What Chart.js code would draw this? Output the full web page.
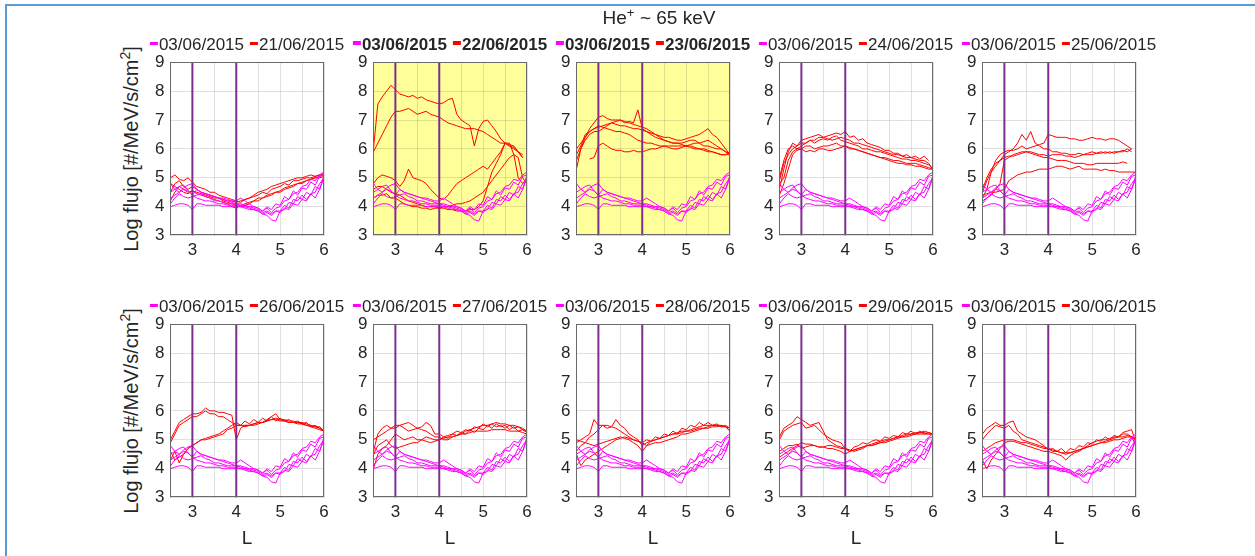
<!DOCTYPE html>
<html>
<head>
<meta charset="utf-8">
<title>He+ ~ 65 keV</title>
<script src="https://cdn.jsdelivr.net/npm/chart.js@4.4.0/dist/chart.umd.min.js"></script>
<style>
  body { margin: 0; width: 1255px; height: 556px; position: relative; overflow: hidden; background: #fff;
         font-family: 'Liberation Sans', Arial, Helvetica, sans-serif; color: #262626; }
  #frame { position: absolute; left: 5px; top: 4px; width: 1300px; height: 600px;
           border-left: 2px solid #5b9bd5; border-top: 2px solid #5b9bd5; }
  canvas { position: absolute; }
  .legend { position: absolute; transform: translate(-50%, -50%); font-size: 17px; line-height: 20px;
            white-space: nowrap; display: flex; gap: 6px; }
  .legend.bold { font-weight: bold; }
  .item { display: flex; align-items: center; }
  .dash { display: inline-block; width: 8px; height: 3px; margin-right: 1px; position: relative; top: -2px; }
  .legend.bold .dash { height: 4px; }
  .ylabel { position: absolute; font-size: 20px; white-space: nowrap; transform: translate(-50%, -50%) rotate(-90deg); }
  .xlabel { position: absolute; font-size: 19px; transform: translate(-50%, -50%); }
  .title { position: absolute; font-size: 19px; white-space: nowrap; transform: translate(-50%, -50%); }
  sup { font-size: 70%; line-height: 0; }
</style>
</head>
<body>
<div id="frame"></div>
<script>
// ---- data ----
const L_GRID = [2.5, 2.6, 2.7, 2.8, 2.9, 3.0, 3.1, 3.2, 3.3, 3.4, 3.5, 3.6, 3.7, 3.8, 3.9, 4.0, 4.1, 4.2,
                4.3, 4.4, 4.5, 4.6, 4.7, 4.8, 4.9, 5.0, 5.1, 5.2, 5.3, 5.4, 5.5, 5.6, 5.7, 5.8, 5.9, 6.0];
const L_RANGE = [2.5, 6];
const FLUX_RANGE = [3, 9];
const boundaryL = [3, 4];

const REF_DATE = '03/06/2015';
const panelDates = ['21/06/2015', '22/06/2015', '23/06/2015', '24/06/2015', '25/06/2015',
                    '26/06/2015', '27/06/2015', '28/06/2015', '29/06/2015', '30/06/2015'];
const highlighted = [false, true, true, false, false, false, false, false, false, false];

// quiet-day reference passes (03/06/2015), same in every panel
const flux0306 = [
  [4.0,4.05,4.1,4.1,4.05,3.9,4.1,4.1,4.05,4.05, 4.05,4.05,4.0,4.0,4.0,4.0,4.0,3.95,3.9,3.9, 3.85,3.75,3.8,3.7,3.85,3.8,3.95,3.9,4.1,4.05, 4.25,4.2,4.45,4.5,4.8,5.0],
  [4.3,4.4,4.5,4.6,4.55,4.4,4.3,4.25,4.2,4.2, 4.15,4.1,4.1,4.05,4.05,4.05,4.0,4.0,3.95,3.9, 3.85,3.75,3.7,3.55,3.5,3.85,3.9,4.15,4.1,4.35, 4.25,4.5,4.4,4.7,4.6,5.0],
  [4.8,4.6,4.5,4.65,4.75,4.8,4.6,4.5,4.45,4.4, 4.35,4.3,4.25,4.2,4.15,4.1,4.1,4.05,4.0,4.0, 3.95,3.85,3.95,3.8,3.95,4.0,4.2,4.25,4.45,4.5, 4.7,4.75,4.95,4.9,5.1,5.2],
  [4.5,4.6,4.7,4.75,4.55,4.4,4.6,4.5,4.45,4.4, 4.35,4.3,4.3,4.25,4.2,4.2,4.3,4.2,4.1,4.0, 3.95,3.85,4.0,3.9,4.1,4.05,4.35,4.25,4.55,4.4, 4.65,4.6,4.85,4.75,5.05,5.1],
  [4.1,4.3,4.45,4.35,4.3,4.35,4.4,4.45,4.35,4.3, 4.2,4.2,4.15,4.1,4.1,4.1,4.05,4.0,4.0,3.95, 3.9,3.8,3.85,3.75,3.85,3.85,4.05,3.95,4.25,4.2, 4.4,4.25,4.45,4.3,4.6,5.1]
];

const flux2106 = [
  [5.0,5.1,4.95,4.9,5.0,4.85,4.7,4.65,4.6,4.5, 4.5,4.4,4.35,4.3,4.25,4.2,4.15,4.25,4.3,4.35, 4.4,4.5,4.45,4.6,4.65,4.7,4.8,4.75,4.9,4.9, 4.95,5.0,5.0,5.05,5.1,5.1],
  [4.2,4.5,4.7,4.6,4.5,4.55,4.45,4.4,4.35,4.3, 4.25,4.2,4.15,4.1,4.0,3.95,4.05,4.1,4.15,4.2, 4.3,4.3,4.4,4.45,4.5,4.55,4.65,4.7,4.75,4.8, 4.85,4.9,4.95,5.0,5.05,5.1],
  [4.8,4.7,4.6,4.5,4.45,4.55,4.5,4.45,4.4,4.35, 4.3,4.3,4.25,4.2,4.2,4.15,4.2,4.25,4.3,4.4, 4.5,4.55,4.6,4.7,4.75,4.8,4.85,4.9,4.95,5.0, 5.0,5.05,5.1,5.05,5.1,5.15],
  [4.5,4.8,4.9,4.7,4.6,4.7,4.6,4.5,4.45,4.4, 4.35,4.3,4.2,4.15,4.1,4.05,4.0,4.05,4.1,4.2, 4.2,4.3,4.35,4.4,4.5,4.5,4.6,4.65,4.7,4.8, 4.8,4.9,4.95,5.0,5.0,5.05]
];
const flux2206 = [
  [6.0,7.55,7.8,8.0,8.2,8.05,7.9,7.85,7.8,7.85, 7.75,7.8,7.7,7.65,7.6,7.55,7.6,7.7,7.75,7.2, 7.0,6.9,6.8,6.1,6.7,6.95,7.0,6.8,6.6,6.35, 6.2,6.1,6.05,5.9,5.7,null],
  [5.9,6.2,6.5,6.8,7.1,7.3,7.3,7.35,7.4,7.3, 7.2,7.25,7.3,7.2,7.15,7.1,7.0,6.9,6.85,6.8, 6.75,6.7,6.7,6.7,6.65,6.6,6.5,6.4,6.3,6.2, 6.2,6.15,6.1,5.9,5.8,null],
  [4.8,5.0,5.1,5.05,5.0,4.9,4.7,4.9,5.3,5.0, 4.95,4.9,4.8,4.6,4.45,4.3,4.25,4.4,4.6,4.8, 4.9,5.0,5.1,5.2,5.3,5.4,5.3,5.5,5.7,5.9, 6.2,6.1,6.0,5.9,5.7,null],
  [4.6,4.7,4.7,4.6,4.5,4.45,4.4,4.3,4.2,4.15, 4.1,4.05,4.0,4.0,4.0,3.95,3.95,3.9,3.9,3.85, 3.85,3.85,3.9,3.9,4.0,4.2,4.7,5.2,5.5,5.8, 6.2,6.2,5.8,5.0,4.8,4.9],
  [4.3,4.4,4.4,4.45,4.3,4.3,4.2,4.1,4.05,4.0, 4.0,3.95,3.95,3.9,3.95,3.95,4.0,4.0,4.05,4.1, 4.1,4.15,4.2,4.3,4.4,4.5,4.7,4.9,5.1,5.3, 5.5,5.7,5.8,5.7,5.0,4.8]
];
const flux2306 = [
  [5.3,6.0,6.4,6.7,6.9,7.1,7.15,7.05,7.0,7.0, 7.0,6.95,6.9,6.85,6.8,6.75,6.7,6.6,6.5,6.4, 6.3,6.25,6.2,6.2,6.15,6.1,6.1,6.05,6.0,6.0, 5.95,5.9,5.85,5.8,5.8,5.9],
  [5.8,6.1,6.5,6.6,6.7,6.75,6.8,6.85,6.9,6.95, 7.0,6.9,6.95,6.9,7.35,6.7,6.6,6.5,6.4,6.35, 6.3,6.25,6.2,6.2,6.2,6.25,6.3,6.3,6.2,6.1, 6.1,6.05,6.0,6.0,5.9,5.85],
  [6.0,6.2,6.4,6.6,6.7,6.8,6.75,6.7,6.65,6.6, 6.6,6.55,6.5,6.4,6.3,6.25,6.2,6.2,6.15,6.1, 6.1,6.05,6.0,6.0,6.05,6.1,6.05,6.0,6.0,5.95, 5.9,5.9,5.85,5.8,5.8,5.8],
  [null,null,null,5.65,5.7,6.1,6.2,6.1,6.0,5.95, 5.95,5.9,5.9,5.95,5.9,5.9,5.95,6.0,6.0,6.05, 6.1,6.1,6.1,6.1,6.1,6.1,6.15,6.2,6.2,6.25, 6.3,6.2,6.1,6.0,5.9,5.8],
  [5.6,6.0,6.3,6.5,6.6,6.6,6.7,6.8,6.9,6.85, 6.8,6.8,6.75,6.7,6.7,6.65,6.6,6.55,6.5,6.45, 6.4,6.4,6.35,6.3,6.3,6.35,6.4,6.45,6.5,6.6, 6.7,6.5,6.4,6.2,6.0,5.8]
];
const flux2406 = [
  [4.6,5.3,5.9,6.2,6.1,6.3,6.35,6.4,6.45,6.5, 6.4,6.45,6.5,6.55,6.5,6.6,6.4,6.45,6.3,6.35, 6.2,6.15,6.1,6.05,5.95,5.95,5.85,5.85,5.75,5.8, 5.7,5.75,5.65,5.75,5.6,null],
  [4.8,5.0,5.6,5.9,6.0,6.0,6.1,6.1,6.0,6.05, 6.1,6.1,6.15,6.2,6.1,6.1,6.05,6.0,5.95,5.9, 5.85,5.8,5.75,5.7,5.7,5.65,5.6,5.6,5.55,5.5, 5.5,5.5,5.45,5.4,5.35,5.3],
  [4.9,5.5,5.8,6.0,6.1,6.2,6.2,6.3,6.3,6.4, 6.4,6.35,6.3,6.35,6.4,6.35,6.3,6.2,6.2,6.15, 6.1,6.05,6.0,5.95,5.9,5.85,5.8,5.8,5.75,5.7, 5.7,5.65,5.6,5.6,5.5,5.3],
  [4.4,4.8,5.3,5.8,5.95,6.0,5.9,5.95,5.9,6.0, 6.0,5.95,5.95,6.0,6.05,6.1,6.0,6.0,5.95,5.9, 5.85,5.8,5.75,5.7,5.65,5.6,5.55,5.5,5.5,5.45, 5.45,5.4,5.4,5.35,5.3,5.3],
  [5.0,5.6,6.0,6.1,6.0,6.1,6.2,6.3,6.2,6.3, 6.35,6.3,6.4,6.45,6.3,6.25,6.2,6.15,6.1,6.0, 6.0,5.95,5.9,5.9,5.85,5.8,5.75,5.7,5.65,5.65, 5.6,5.6,5.55,5.5,5.45,5.3]
];
const flux2506 = [
  [4.3,4.6,5.2,5.6,5.8,5.9,5.95,5.95,6.0,6.1, 6.0,6.05,6.1,6.15,6.2,6.5,6.45,6.4,6.4,6.4, 6.35,6.35,6.3,6.3,6.35,6.4,6.35,6.35,6.3,6.35, 6.35,6.3,6.2,6.1,6.0,null],
  [4.5,4.9,5.2,5.4,5.6,5.8,5.9,6.0,6.2,6.5, 6.3,6.6,6.2,6.1,6.0,6.0,5.9,5.9,5.85,5.85, 5.8,5.8,5.85,5.8,5.85,5.9,5.85,5.85,5.9,5.85, 5.9,5.9,5.95,5.9,6.0,null],
  [4.2,4.3,4.4,4.6,4.8,5.6,5.7,5.8,5.85,5.9, 5.9,5.85,5.8,5.75,5.7,5.7,5.65,5.6,5.6,5.6, 5.55,5.5,5.5,5.5,5.45,5.45,5.5,5.5,5.5,5.5, 5.5,5.5,5.55,5.5,null,null],
  [4.4,4.45,4.5,4.5,4.55,4.6,4.9,5.0,5.1,5.15, 5.2,5.2,5.25,5.3,5.3,5.3,5.35,5.4,5.4,5.35, 5.3,5.35,5.4,5.3,5.3,5.3,5.3,5.25,5.3,5.25, 5.25,5.2,5.2,5.2,5.2,5.2],
  [4.6,5.0,5.3,5.5,5.6,5.7,5.75,5.75,5.8,5.85, 5.9,5.9,5.85,5.8,5.8,5.75,5.8,5.8,5.8,5.75, 5.75,5.7,5.75,5.8,5.8,5.8,5.85,5.9,5.85,5.9, 5.85,5.9,5.9,6.0,5.9,null]
];
const flux2606 = [
  [5.0,5.3,5.6,5.7,5.8,5.9,5.9,5.95,6.1,6.0, 6.0,5.95,5.95,5.9,5.85,5.0,5.4,5.5,5.5,5.55, 5.6,5.6,5.65,5.7,5.75,5.7,5.7,5.65,5.65,5.6, 5.6,5.55,5.5,5.45,5.4,5.3],
  [4.3,4.6,4.2,4.5,4.7,4.8,4.9,5.0,5.05,5.1, 5.15,5.2,5.3,5.4,5.5,5.6,5.5,5.65,5.55,5.7, 5.6,5.75,5.65,5.8,5.65,5.75,5.65,5.7,5.6,5.65, 5.55,5.6,5.45,5.5,5.4,5.3],
  [4.6,4.3,4.4,4.5,4.7,4.8,4.9,5.0,5.0,5.05, 5.1,5.15,5.2,5.35,5.4,5.5,5.5,5.5,5.5,5.55, 5.6,5.6,5.7,5.8,5.9,5.7,5.65,5.6,5.6,5.55, 5.55,5.5,5.5,5.45,5.45,5.3],
  [4.9,5.2,5.5,5.6,5.7,5.8,5.8,5.9,6.0,5.9, 5.9,5.8,5.8,5.7,5.6,5.5,5.5,5.45,5.5,5.5, 5.55,5.6,5.65,5.7,5.7,5.65,5.65,5.6,5.6,5.6, 5.55,5.5,5.45,5.4,5.35,5.3]
];
const flux2706 = [
  [4.6,5.2,5.4,5.5,5.4,5.4,5.5,5.4,5.3,5.35, 5.4,5.45,5.6,5.5,5.2,5.2,5.1,5.15,5.2,5.3, 5.25,5.35,5.3,5.45,5.4,5.55,5.45,5.55,5.45,5.5, 5.4,5.5,5.4,5.45,5.35,5.3],
  [4.0,4.5,4.7,4.8,5.0,5.2,5.1,5.0,5.05,5.1, 5.0,5.0,4.95,4.9,4.95,5.0,5.1,5.05,5.2,5.15, 5.25,5.2,5.35,5.25,5.4,5.35,5.5,5.4,5.55,5.45, 5.5,5.35,5.45,5.3,5.35,5.25],
  [4.5,4.8,4.9,5.0,4.8,4.7,4.75,4.8,4.85,4.9, 4.9,5.0,5.1,5.05,5.0,5.0,5.05,5.1,5.1,5.15, 5.2,5.2,5.25,5.3,5.3,5.3,5.3,5.35,5.35,5.35, 5.35,5.3,5.3,5.3,5.25,5.2],
  [5.0,5.1,5.2,5.3,5.4,5.5,5.5,5.55,5.6,5.5, 5.4,5.35,5.3,5.2,5.1,5.1,5.0,5.0,5.1,5.15, 5.2,5.3,5.35,5.4,5.45,5.5,5.5,5.55,5.6,5.55, 5.55,5.5,5.5,5.45,5.4,5.3]
];
const flux2806 = [
  [4.9,5.0,5.1,5.2,5.7,5.5,5.5,5.5,5.45,5.4, 5.3,5.2,5.1,5.0,4.95,4.9,5.0,4.95,5.1,5.05, 5.2,5.15,5.3,5.2,5.4,5.35,5.5,5.45,5.6,5.5, 5.6,5.5,5.55,5.45,5.5,5.4],
  [4.6,4.8,4.9,5.1,5.2,5.35,5.5,5.4,5.45,5.7, 5.5,5.4,5.2,5.1,5.0,4.8,4.9,4.95,5.0,5.05, 5.1,5.15,5.2,5.25,5.3,5.3,5.35,5.4,5.45,5.5, 5.5,5.5,5.5,5.5,5.45,5.3],
  [4.5,4.1,4.3,4.4,4.5,4.6,4.7,4.8,4.9,5.0, 5.05,5.1,5.05,5.0,4.95,4.9,4.8,4.95,5.0,5.05, 5.1,5.15,5.2,5.2,5.25,5.3,5.3,5.35,5.4,5.4, 5.45,5.5,5.5,5.45,5.45,5.4],
  [5.0,4.95,4.9,4.85,4.8,4.85,4.9,4.95,5.0,5.05, 5.1,5.05,5.0,4.9,4.8,4.6,4.8,4.85,4.9,4.9, 4.95,5.0,5.05,5.1,5.2,5.2,5.25,5.3,5.35,5.4, 5.4,5.45,5.45,5.5,5.45,5.3]
];
const flux2906 = [
  [5.1,5.4,5.5,5.6,5.8,5.7,5.6,5.5,5.55,5.6, 5.3,5.0,4.9,4.8,4.75,4.7,4.6,4.75,4.8,4.9, 4.85,4.95,5.0,4.95,5.1,5.05,5.15,5.1,5.25,5.2, 5.3,5.2,5.3,5.2,5.25,5.2],
  [5.0,5.3,5.4,5.5,5.55,5.6,5.4,5.45,5.5,5.35, 5.2,5.1,5.0,4.95,4.9,4.7,4.65,4.6,4.65,4.7, 4.8,4.85,4.9,4.95,5.0,5.0,5.05,5.1,5.15,5.2, 5.2,5.25,5.25,5.3,5.25,5.2],
  [4.6,4.7,4.8,4.8,4.85,4.7,4.75,4.8,4.8,4.75, 4.75,4.8,4.8,4.75,4.7,4.7,4.6,4.65,4.7,4.75, 4.8,4.8,4.85,4.9,4.95,5.0,5.05,5.1,5.1,5.15, 5.2,5.2,5.25,5.25,5.2,5.2],
  [4.4,4.5,4.6,4.7,4.8,4.9,4.85,4.85,4.8,4.75, 4.75,4.7,4.7,4.65,4.6,4.5,4.6,4.65,4.7,4.75, 4.8,4.8,4.85,4.9,4.9,4.95,5.0,5.05,5.1,5.1, 5.15,5.2,5.2,5.2,5.2,5.2]
];
const flux3006 = [
  [5.2,5.4,5.5,5.6,5.5,5.5,5.6,5.65,5.3,5.2, 5.1,5.05,5.0,4.9,4.8,4.65,4.7,4.6,4.7,4.55, 4.7,4.65,4.8,4.75,4.9,4.85,5.0,4.95,5.1,5.0, 5.15,5.1,5.25,5.3,5.35,4.9],
  [5.0,5.2,5.35,5.5,5.45,5.4,5.5,5.3,5.2,5.0, 4.95,4.9,4.85,4.8,4.75,4.7,4.65,4.6,4.55,4.5, 4.55,4.6,4.65,4.7,4.8,4.9,4.95,5.0,5.0,5.05, 5.1,5.1,5.2,5.2,5.1,5.0],
  [4.6,4.7,4.8,4.9,4.95,5.0,5.0,5.0,4.95,4.9, 4.9,4.85,4.8,4.75,4.7,4.7,4.6,4.6,4.55,4.55, 4.55,4.6,4.65,4.7,4.75,4.8,4.85,4.9,4.95,5.0, 5.05,5.1,5.1,5.15,5.1,5.0],
  [4.3,4.0,4.3,4.5,4.7,4.9,4.95,4.95,4.9,4.85, 4.8,4.75,4.7,4.65,4.6,4.6,4.55,4.5,4.45,4.3, 4.45,4.55,4.6,4.7,4.75,4.8,4.85,4.9,4.9,4.95, 5.0,5.0,5.05,5.1,5.1,4.8]
];
const fluxByPanel = [flux2106, flux2206, flux2306, flux2406, flux2506,
                     flux2606, flux2706, flux2806, flux2906, flux3006];

// ---- look ----
const MAGENTA = '#ff00ff';
const RED = '#ff0000';
const PURPLE = '#7e2f8e';
const YELLOW = '#ffff99';
const FONT = "'Liberation Sans', Arial, Helvetica, sans-serif";

const colLeft = [170, 373, 576, 779, 982];
const rowTop = [62, 324];
const PLOT_W = 154, PLOT_H = 173;

// yellow fill + box round the axes
const axesBox = {
  id: 'axesBox',
  beforeDraw(chart, args, opts) {
    if (!opts.fill) return;
    const a = chart.chartArea, ctx = chart.ctx;
    ctx.save();
    ctx.fillStyle = opts.fill;
    ctx.fillRect(a.left, a.top, a.right - a.left, a.bottom - a.top);
    ctx.restore();
  },
  afterDraw(chart) {
    const a = chart.chartArea, ctx = chart.ctx;
    ctx.save();
    ctx.strokeStyle = '#6a6a6a';
    ctx.lineWidth = 1;
    ctx.strokeRect(Math.round(a.left) + 0.5, Math.round(a.top) + 0.5,
                   Math.round(a.right - a.left) - 1, Math.round(a.bottom - a.top) - 1);
    ctx.restore();
  }
};

function toPoints(values) {
  return values.map((y, k) => ({ x: L_GRID[k], y: y }));
}

function makeChart(i) {
  const datasets = [];
  boundaryL.forEach(v => datasets.push({
    data: [{ x: v, y: FLUX_RANGE[0] }, { x: v, y: FLUX_RANGE[1] }],
    borderColor: PURPLE, borderWidth: 2
  }));
  flux0306.forEach(s => datasets.push({ data: toPoints(s), borderColor: MAGENTA, borderWidth: 1 }));
  fluxByPanel[i].forEach(s => datasets.push({ data: toPoints(s), borderColor: RED, borderWidth: 1 }));

  const canvas = document.createElement('canvas');
  canvas.width = 220;
  canvas.height = 230;
  document.body.appendChild(canvas);

  const tickFont = { family: FONT, size: 17 };
  const gridColor = 'rgba(38,38,38,0.14)';
  const chart = new Chart(canvas, {
    type: 'line',
    data: { datasets },
    options: {
      responsive: false,
      maintainAspectRatio: false,
      animation: false,
      devicePixelRatio: 1,
      parsing: false,
      spanGaps: false,
      layout: { padding: { top: 14, right: 12, left: 0, bottom: 0 } },
      elements: { point: { radius: 0 }, line: { tension: 0 } },
      plugins: {
        legend: { display: false },
        tooltip: { enabled: false },
        axesBox: { fill: highlighted[i] ? YELLOW : null }
      },
      scales: {
        x: {
          type: 'linear', min: L_RANGE[0], max: L_RANGE[1],
          ticks: { stepSize: 0.5, autoSkip: false, maxRotation: 0, padding: 5, color: '#262626', font: tickFont,
                   callback: v => Number.isInteger(v) ? String(v) : '' },
          grid: { color: gridColor, drawTicks: false },
          border: { display: false }
        },
        y: {
          type: 'linear', min: FLUX_RANGE[0], max: FLUX_RANGE[1],
          ticks: { stepSize: 1, padding: 6, color: '#262626', font: tickFont },
          grid: { color: gridColor, drawTicks: false },
          border: { display: false }
        }
      }
    },
    plugins: [axesBox]
  });

  // size the canvas so the plot area matches, then move it into place
  let a = chart.chartArea;
  const extraW = chart.width - (a.right - a.left);
  const extraH = chart.height - (a.bottom - a.top);
  chart.resize(Math.round(PLOT_W + extraW), Math.round(PLOT_H + extraH));
  a = chart.chartArea;
  const col = i % 5, row = Math.floor(i / 5);
  canvas.style.left = Math.round(colLeft[col] - a.left) + 'px';
  canvas.style.top = Math.round(rowTop[row] - a.top) + 'px';
}

function addLegend(i) {
  const col = i % 5, row = Math.floor(i / 5);
  const div = document.createElement('div');
  div.className = 'legend' + (highlighted[i] ? ' bold' : '');
  div.style.left = (colLeft[col] + PLOT_W / 2) + 'px';
  div.style.top = (row === 0 ? 45 : 307) + 'px';
  [[MAGENTA, REF_DATE], [RED, panelDates[i]]].forEach(([c, t]) => {
    const item = document.createElement('span');
    item.className = 'item';
    const dash = document.createElement('span');
    dash.className = 'dash';
    dash.style.background = c;
    item.appendChild(dash);
    item.appendChild(document.createTextNode(t));
    div.appendChild(item);
  });
  document.body.appendChild(div);
}

function addText(cls, html, x, y) {
  const d = document.createElement('div');
  d.className = cls;
  d.innerHTML = html;
  d.style.left = x + 'px';
  d.style.top = y + 'px';
  document.body.appendChild(d);
}

for (let i = 0; i < panelDates.length; i++) {
  makeChart(i);
  addLegend(i);
}
addText('title', 'He<sup>+</sup> ~ 65 keV', 659, 18);
rowTop.forEach(t => addText('ylabel', 'Log flujo [#/MeV/s/cm<sup>2</sup>]', 131, t + PLOT_H / 2));
colLeft.forEach(l => addText('xlabel', 'L', l + PLOT_W / 2, 538));
</script>
</body>
</html>
